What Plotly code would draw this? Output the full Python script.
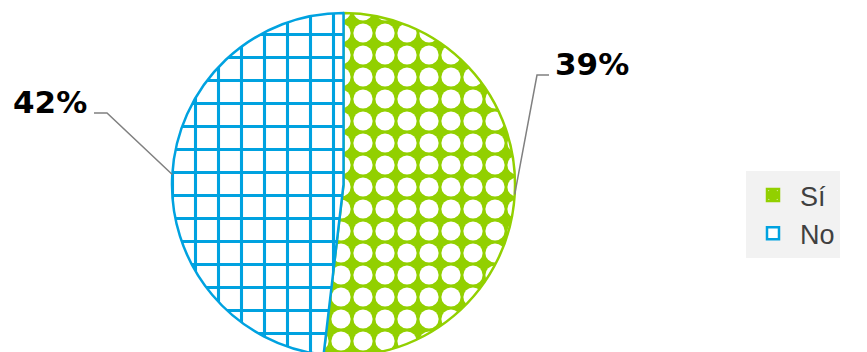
import math
import plotly.graph_objects as go

# ---- data ----
categories = ["Sí", "No"]
values = [42, 39]
label_texts = ["39%", "42%"]
colors = ["#92d000", "#00a2e0"]

# ---- layout geometry (pixels) ----
W, H = 867, 372
M_T, M_B = 13, 16
plot_h = H - M_T - M_B
DOM_X = [0.0, 0.7924]

cx = (DOM_X[0] + DOM_X[1]) / 2 * W
cy = M_T + plot_h / 2
R = plot_h / 2


def px_to_paper(x, y):
    return x / W, (H - M_B - y) / plot_h


fig = go.Figure()
fig.add_trace(go.Pie(
    labels=categories,
    values=values,
    sort=False,
    direction="clockwise",
    rotation=0,
    textinfo="none",
    hoverinfo="label+value",
    domain=dict(x=DOM_X, y=[0, 1]),
    marker=dict(
        colors=colors,
        line=dict(color=colors, width=2.5),
        pattern=dict(
            shape=[".", "+"],
            fillmode="replace",
            bgcolor=["#92d000", "#ffffff"],
            fgcolor=["#ffffff", "#00a2e0"],
            size=[22, 23],
            solidity=[0.6, 0.25],
        ),
    ),
))

# leader lines from slice mid-angle to label elbows
total = sum(values)
elbows = [(537, 75, 549), (107, 113, 94)]
shapes = []
annotations = []
start = 0.0
for i, v in enumerate(values):
    frac = v / total
    mid = (start + frac / 2) * 2 * math.pi
    start += frac
    ex = cx + R * math.sin(mid)
    ey = cy - R * math.cos(mid)
    bx, by, fx = elbows[i]
    p0 = px_to_paper(ex, ey)
    p1 = px_to_paper(bx, by)
    p2 = px_to_paper(fx, by)
    shapes.append(dict(
        type="path", xref="paper", yref="paper",
        path=f"M {p0[0]},{p0[1]} L {p1[0]},{p1[1]} L {p2[0]},{p2[1]}",
        line=dict(color="#808080", width=1.5),
    ))
    right = fx > bx
    tp = px_to_paper(fx + (4 if right else -5), by - 11)
    annotations.append(dict(
        x=tp[0], y=tp[1], xref="paper", yref="paper",
        text=f"<b>{label_texts[i]}</b>", showarrow=False,
        xanchor="left" if right else "right", yanchor="middle",
        font=dict(family="DejaVu Sans", size=31, color="#000000"),
    ))

lx, ly = px_to_paper(746, 171)
fig.update_layout(
    width=W, height=H,
    margin=dict(l=0, r=0, t=M_T, b=M_B),
    paper_bgcolor="#ffffff",
    plot_bgcolor="#ffffff",
    showlegend=True,
    legend=dict(
        x=lx, y=ly, xanchor="left", yanchor="top",
        bgcolor="#f2f2f2",
        font=dict(family="Liberation Sans", size=27, color="#404040"),
        tracegroupgap=0,
        itemwidth=44,
    ),
    shapes=shapes,
    annotations=annotations,
)

fig.write_html("out.html")
